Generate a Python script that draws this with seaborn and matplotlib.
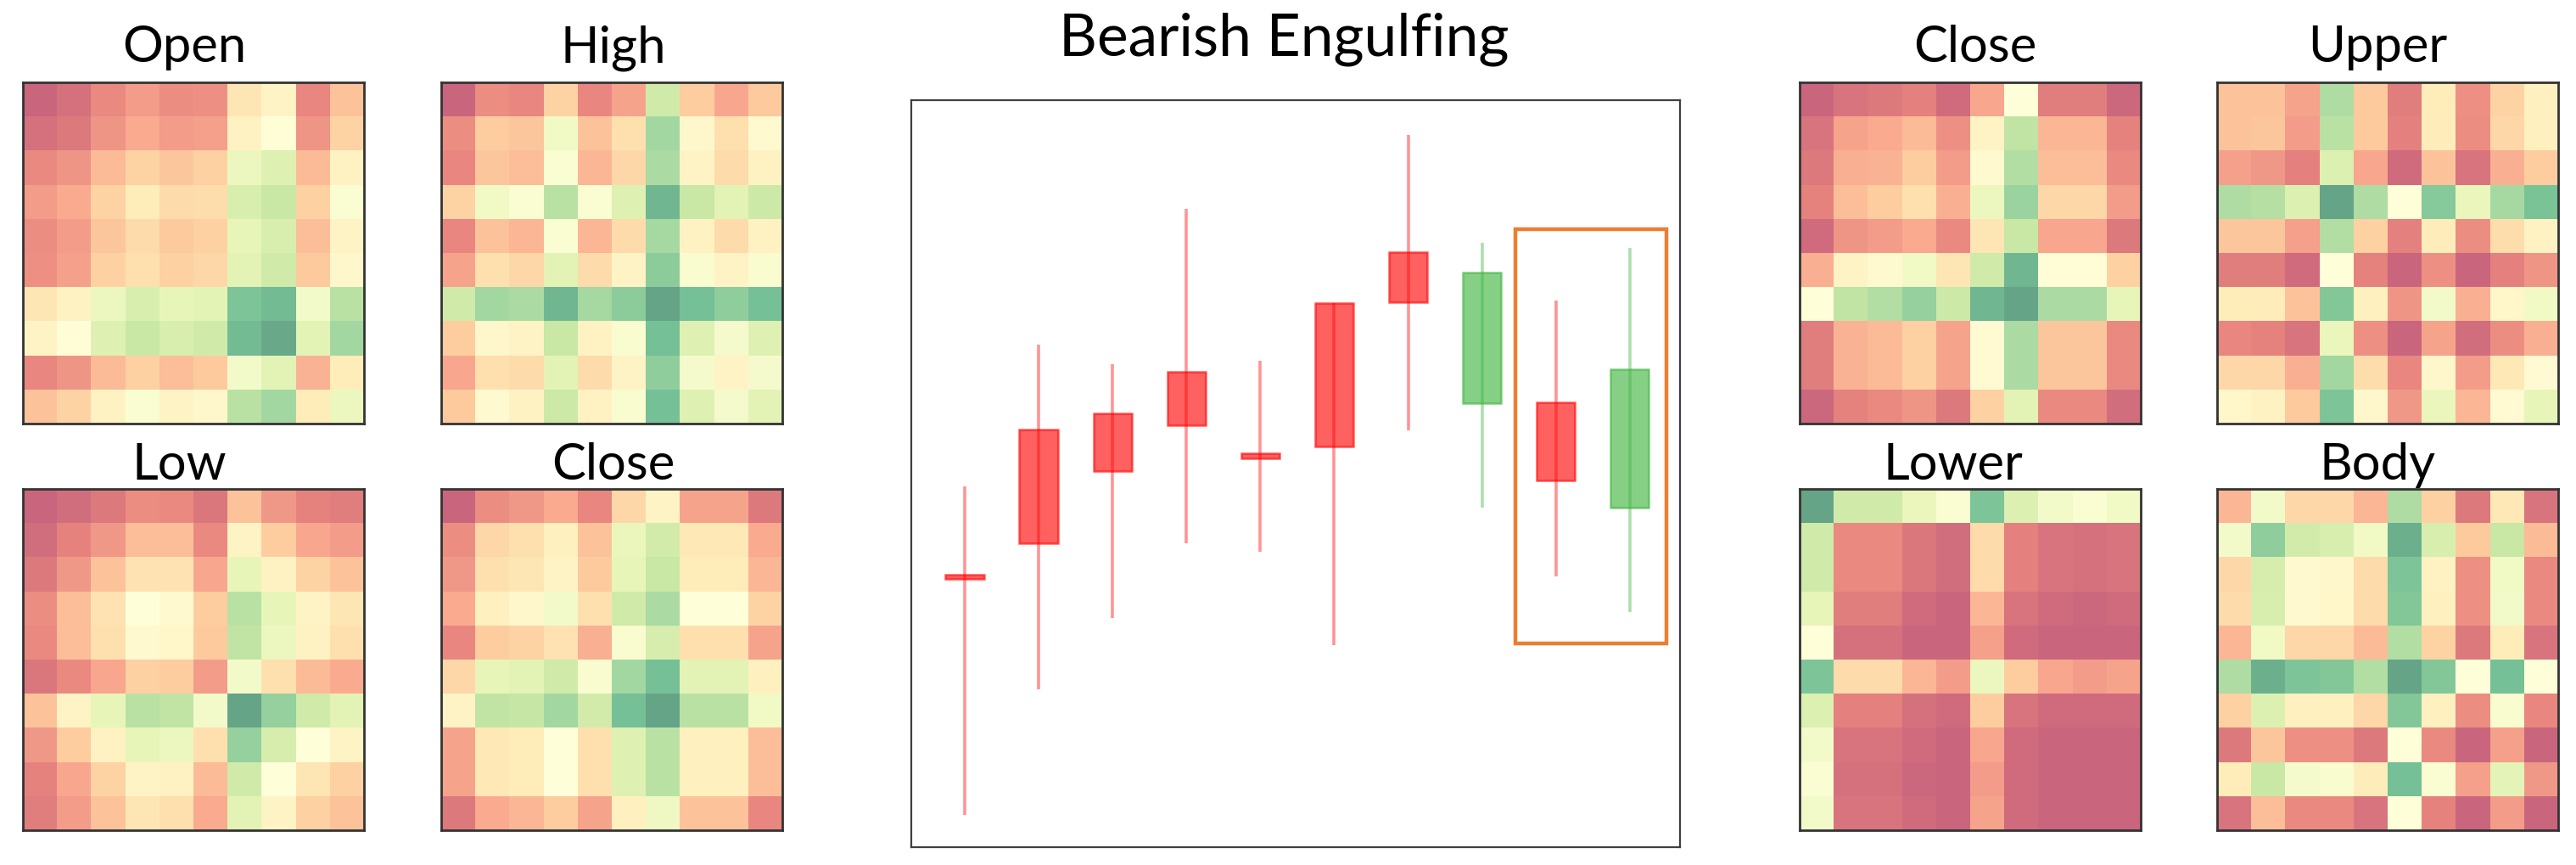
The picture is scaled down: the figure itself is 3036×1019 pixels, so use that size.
"""
Bearish engulfing candles with the GAF style matrices on both sides
"""

import numpy as np
import pandas as pd
import matplotlib.pyplot as plt
from matplotlib.patches import Rectangle
import seaborn as sns

sns.set_style("white")
plt.rcParams['font.family'] = ['Lato', 'DejaVu Sans']

W, H = 3036, 1020

# matrices, 0 = darkest red, 1 = darkest green
open_m = [
    [0.00, 0.04, 0.12, 0.17, 0.13, 0.14, 0.38, 0.44, 0.11, 0.27],
    [0.04, 0.07, 0.15, 0.21, 0.17, 0.18, 0.43, 0.49, 0.15, 0.32],
    [0.12, 0.15, 0.25, 0.32, 0.28, 0.31, 0.58, 0.63, 0.25, 0.43],
    [0.17, 0.21, 0.32, 0.40, 0.34, 0.35, 0.65, 0.70, 0.31, 0.52],
    [0.13, 0.17, 0.28, 0.34, 0.29, 0.31, 0.60, 0.65, 0.26, 0.44],
    [0.14, 0.18, 0.31, 0.36, 0.31, 0.33, 0.62, 0.68, 0.29, 0.46],
    [0.38, 0.43, 0.58, 0.65, 0.60, 0.62, 0.88, 0.92, 0.55, 0.74],
    [0.44, 0.49, 0.63, 0.70, 0.65, 0.68, 0.92, 0.98, 0.62, 0.80],
    [0.11, 0.15, 0.25, 0.31, 0.26, 0.29, 0.55, 0.62, 0.23, 0.40],
    [0.27, 0.32, 0.43, 0.52, 0.44, 0.46, 0.74, 0.80, 0.40, 0.58],
]
high_m = [
    [0.00, 0.13, 0.11, 0.32, 0.11, 0.19, 0.68, 0.30, 0.20, 0.29],
    [0.13, 0.30, 0.28, 0.56, 0.27, 0.36, 0.80, 0.46, 0.36, 0.47],
    [0.11, 0.28, 0.26, 0.52, 0.24, 0.33, 0.78, 0.44, 0.34, 0.43],
    [0.32, 0.56, 0.52, 0.74, 0.52, 0.63, 0.93, 0.70, 0.62, 0.69],
    [0.11, 0.27, 0.24, 0.52, 0.24, 0.34, 0.79, 0.43, 0.34, 0.43],
    [0.19, 0.36, 0.33, 0.62, 0.34, 0.44, 0.85, 0.53, 0.44, 0.53],
    [0.68, 0.80, 0.78, 0.93, 0.79, 0.85, 1.00, 0.90, 0.84, 0.90],
    [0.30, 0.46, 0.44, 0.70, 0.43, 0.53, 0.90, 0.63, 0.54, 0.63],
    [0.20, 0.36, 0.34, 0.62, 0.34, 0.44, 0.84, 0.54, 0.44, 0.54],
    [0.29, 0.47, 0.43, 0.69, 0.43, 0.53, 0.90, 0.63, 0.54, 0.62],
]
low_m = [
    [0.00, 0.03, 0.07, 0.13, 0.12, 0.06, 0.27, 0.16, 0.10, 0.08],
    [0.03, 0.10, 0.16, 0.26, 0.26, 0.12, 0.44, 0.30, 0.20, 0.17],
    [0.07, 0.16, 0.27, 0.37, 0.37, 0.20, 0.60, 0.43, 0.32, 0.27],
    [0.13, 0.26, 0.37, 0.50, 0.47, 0.30, 0.74, 0.60, 0.44, 0.38],
    [0.12, 0.26, 0.36, 0.47, 0.45, 0.29, 0.72, 0.58, 0.43, 0.36],
    [0.06, 0.12, 0.20, 0.31, 0.30, 0.17, 0.55, 0.36, 0.25, 0.21],
    [0.27, 0.44, 0.60, 0.74, 0.72, 0.55, 1.00, 0.83, 0.68, 0.62],
    [0.16, 0.30, 0.43, 0.60, 0.58, 0.36, 0.83, 0.66, 0.50, 0.44],
    [0.10, 0.20, 0.32, 0.44, 0.43, 0.25, 0.68, 0.50, 0.38, 0.31],
    [0.08, 0.17, 0.27, 0.38, 0.36, 0.21, 0.62, 0.44, 0.31, 0.27],
]
close_m = [
    [0.00, 0.13, 0.16, 0.21, 0.11, 0.33, 0.44, 0.19, 0.19, 0.07],
    [0.13, 0.33, 0.36, 0.42, 0.27, 0.59, 0.67, 0.39, 0.39, 0.21],
    [0.16, 0.36, 0.38, 0.44, 0.29, 0.60, 0.70, 0.40, 0.40, 0.24],
    [0.21, 0.42, 0.46, 0.55, 0.36, 0.68, 0.78, 0.50, 0.50, 0.32],
    [0.11, 0.30, 0.32, 0.37, 0.22, 0.53, 0.66, 0.36, 0.36, 0.19],
    [0.33, 0.60, 0.62, 0.68, 0.53, 0.80, 0.90, 0.62, 0.62, 0.42],
    [0.44, 0.72, 0.71, 0.80, 0.67, 0.90, 1.00, 0.74, 0.74, 0.56],
    [0.19, 0.39, 0.40, 0.50, 0.36, 0.63, 0.74, 0.42, 0.42, 0.26],
    [0.19, 0.39, 0.40, 0.50, 0.36, 0.63, 0.74, 0.42, 0.42, 0.26],
    [0.07, 0.21, 0.24, 0.30, 0.19, 0.42, 0.57, 0.27, 0.27, 0.11],
]
close2_m = [
    [0.00, 0.05, 0.07, 0.09, 0.02, 0.20, 0.50, 0.08, 0.08, 0.01],
    [0.05, 0.19, 0.21, 0.25, 0.14, 0.44, 0.72, 0.24, 0.24, 0.10],
    [0.07, 0.22, 0.23, 0.30, 0.17, 0.47, 0.76, 0.26, 0.26, 0.12],
    [0.10, 0.26, 0.30, 0.36, 0.22, 0.58, 0.82, 0.33, 0.33, 0.17],
    [0.02, 0.15, 0.17, 0.21, 0.12, 0.38, 0.70, 0.20, 0.20, 0.07],
    [0.22, 0.44, 0.47, 0.56, 0.38, 0.68, 0.93, 0.49, 0.49, 0.31],
    [0.50, 0.72, 0.76, 0.83, 0.69, 0.93, 1.00, 0.78, 0.78, 0.60],
    [0.08, 0.23, 0.25, 0.31, 0.19, 0.48, 0.78, 0.28, 0.28, 0.12],
    [0.08, 0.23, 0.25, 0.31, 0.19, 0.48, 0.78, 0.28, 0.28, 0.12],
    [0.01, 0.10, 0.12, 0.15, 0.07, 0.31, 0.62, 0.12, 0.12, 0.03],
]
upper_m = [
    [0.27, 0.27, 0.19, 0.77, 0.29, 0.08, 0.40, 0.14, 0.32, 0.42],
    [0.27, 0.28, 0.17, 0.74, 0.29, 0.09, 0.41, 0.13, 0.33, 0.42],
    [0.18, 0.16, 0.09, 0.64, 0.20, 0.02, 0.27, 0.05, 0.22, 0.30],
    [0.77, 0.75, 0.64, 1.00, 0.77, 0.50, 0.86, 0.59, 0.79, 0.89],
    [0.28, 0.28, 0.18, 0.76, 0.31, 0.09, 0.41, 0.13, 0.35, 0.43],
    [0.08, 0.08, 0.02, 0.50, 0.10, 0.00, 0.14, 0.00, 0.09, 0.15],
    [0.40, 0.41, 0.27, 0.87, 0.42, 0.15, 0.55, 0.22, 0.45, 0.56],
    [0.11, 0.10, 0.05, 0.59, 0.14, 0.00, 0.19, 0.03, 0.13, 0.22],
    [0.33, 0.33, 0.22, 0.80, 0.35, 0.11, 0.46, 0.17, 0.39, 0.48],
    [0.45, 0.43, 0.29, 0.88, 0.46, 0.16, 0.59, 0.24, 0.48, 0.60],
]
lower_m = [
    [1.00, 0.68, 0.68, 0.59, 0.52, 0.88, 0.64, 0.55, 0.52, 0.56],
    [0.68, 0.12, 0.12, 0.06, 0.03, 0.34, 0.09, 0.05, 0.04, 0.05],
    [0.68, 0.12, 0.12, 0.06, 0.03, 0.34, 0.09, 0.05, 0.04, 0.05],
    [0.60, 0.08, 0.08, 0.02, 0.00, 0.24, 0.05, 0.02, 0.01, 0.02],
    [0.50, 0.04, 0.04, 0.00, 0.00, 0.18, 0.02, 0.00, 0.00, 0.00],
    [0.88, 0.34, 0.34, 0.24, 0.17, 0.58, 0.30, 0.20, 0.17, 0.19],
    [0.64, 0.09, 0.09, 0.04, 0.02, 0.30, 0.05, 0.02, 0.02, 0.02],
    [0.55, 0.05, 0.05, 0.02, 0.00, 0.20, 0.02, 0.00, 0.00, 0.00],
    [0.52, 0.04, 0.04, 0.01, 0.00, 0.17, 0.02, 0.00, 0.00, 0.00],
    [0.55, 0.05, 0.05, 0.02, 0.00, 0.19, 0.02, 0.00, 0.00, 0.00],
]
body_m = [
    [0.24, 0.55, 0.33, 0.33, 0.24, 0.77, 0.31, 0.07, 0.39, 0.05],
    [0.55, 0.84, 0.67, 0.65, 0.56, 0.96, 0.65, 0.29, 0.70, 0.25],
    [0.33, 0.66, 0.47, 0.46, 0.34, 0.88, 0.43, 0.14, 0.56, 0.12],
    [0.34, 0.65, 0.47, 0.45, 0.34, 0.87, 0.42, 0.14, 0.55, 0.12],
    [0.24, 0.56, 0.33, 0.33, 0.25, 0.76, 0.32, 0.07, 0.40, 0.05],
    [0.77, 0.96, 0.88, 0.87, 0.76, 1.00, 0.87, 0.50, 0.90, 0.50],
    [0.31, 0.64, 0.42, 0.42, 0.33, 0.87, 0.42, 0.13, 0.53, 0.11],
    [0.07, 0.28, 0.14, 0.14, 0.07, 0.50, 0.12, 0.00, 0.18, 0.00],
    [0.40, 0.70, 0.54, 0.53, 0.41, 0.90, 0.52, 0.18, 0.61, 0.16],
    [0.05, 0.26, 0.12, 0.12, 0.05, 0.50, 0.10, 0.00, 0.17, 0.00],
]

# candles, y runs 0-100 over the panel height
opens = [35.9, 40.7, 50.3, 56.5, 52.1, 53.6, 73.0, 76.9, 49.1, 64.0]
closes = [36.5, 55.9, 58.1, 63.6, 52.7, 72.8, 79.7, 59.4, 59.6, 45.5]
highs = [48.3, 67.3, 64.7, 85.4, 65.1, 72.8, 95.3, 80.9, 73.2, 80.2]
lows = [4.3, 21.1, 30.7, 40.7, 39.6, 27.1, 55.8, 45.5, 36.3, 31.5]

# name, matrix, panel box (x0, y0, size in px), title centre x, title baseline y
panels = [
    ('Open', open_m, 27, 98, 217, 73),
    ('High', high_m, 520, 98, 723, 73),
    ('Low', low_m, 27, 577, 211, 565),
    ('Close', close_m, 520, 577, 723, 565),
    ('Close', close2_m, 2121, 98, 2328, 73),
    ('Upper', upper_m, 2613, 98, 2802, 73),
    ('Lower', lower_m, 2121, 577, 2302, 565),
    ('Body', body_m, 2613, 577, 2802, 565),
]
PANEL_SIZE = 402


def px_axes(fig, x0, y0, w, h):
    return fig.add_axes([x0 / W, 1 - (y0 + h) / H, w / W, h / H])


def draw_matrix(fig, name, matrix, x0, y0, tx, ty):
    ax = px_axes(fig, x0, y0, PANEL_SIZE, PANEL_SIZE)
    sns.heatmap(np.array(matrix), ax=ax, cmap='RdYlGn', vmin=0, vmax=1, alpha=0.6,
                cbar=False, xticklabels=False, yticklabels=False, linewidths=0)
    for spine in ax.spines.values():
        spine.set_visible(True)
        spine.set_color('#333333')
        spine.set_linewidth(2.0)
    fig.text(tx / W, 1 - ty / H, name, fontsize=43, color='black',
             ha='center', va='baseline')


def draw_candles(fig):
    ax = px_axes(fig, 1074, 119, 906, 880)
    df = pd.DataFrame({'open': opens, 'close': closes, 'high': highs, 'low': lows})
    df['x'] = df.index
    df['color'] = np.where(df['close'] >= df['open'], '#ff0000', '#3cb43c')

    ax.vlines(df['x'], df['low'], df['high'], colors=df['color'], linewidth=2.6, alpha=0.42)
    ax.bar(df['x'], (df['close'] - df['open']).abs(), bottom=df[['open', 'close']].min(axis=1),
           width=0.52, color=df['color'], alpha=0.62, edgecolor=df['color'], linewidth=1.8)

    # the engulfing pair
    ax.add_patch(Rectangle((7.458, 27.3), 2.036, 55.4, fill=False,
                           edgecolor='#ed7d31', linewidth=3.2))

    ax.set_xlim(-0.723, 9.68)
    ax.set_ylim(0, 100)
    ax.set_xticks([])
    ax.set_yticks([])
    for spine in ax.spines.values():
        spine.set_visible(True)
        spine.set_color('#404040')
        spine.set_linewidth(1.6)
    fig.text(1513 / W, 1 - 65 / H, 'Bearish Engulfing', fontsize=50, color='black',
             ha='center', va='baseline')


def main():
    fig = plt.figure(figsize=(W / 100, H / 100), dpi=100, facecolor='white')
    for name, matrix, x0, y0, tx, ty in panels:
        draw_matrix(fig, name, matrix, x0, y0, tx, ty)
    draw_candles(fig)
    fig.savefig('out.png', dpi=100, facecolor='white')
    plt.close(fig)


if __name__ == "__main__":
    main()
